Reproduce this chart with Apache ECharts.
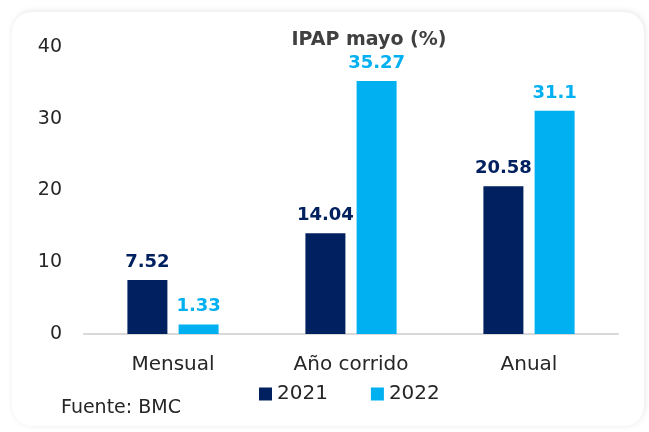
<!DOCTYPE html>
<html lang="es">
<head>
    <meta charset="UTF-8">
    <title>IPAP mayo (%)</title>
    <script src="https://cdn.jsdelivr.net/npm/echarts@6/dist/echarts.min.js"></script>
    <style>
        html, body { margin: 0; padding: 0; background: #fff; }
        #main { width: 649px; height: 432px; }
    </style>
</head>
<body>
<div id="main"></div>
<script>
var categories = ['Mensual', 'Año corrido', 'Anual'];
var serie2021 = [7.52, 14.04, 20.58];
var serie2022 = [1.33, 35.27, 31.1];
var yTicks = [0, 10, 20, 30, 40];

(function() {
    var chart = echarts.init(document.getElementById('main'));
    var font = 'DejaVu Sans';

    var option = {
        backgroundColor: '#fff',
        animation: false,
        textStyle: { fontFamily: font },
        graphic: [{
            type: 'rect',
            shape: { x: 12, y: 12, width: 632, height: 414, r: 20 },
            style: {
                fill: '#fff',
                shadowBlur: 6,
                shadowColor: 'rgba(0,0,0,0.10)',
                shadowOffsetX: 1,
                shadowOffsetY: -1
            },
            z: -10
        }, {
            type: 'text',
            left: 61,
            top: 399,
            style: { text: 'Fuente: BMC', fontSize: 19, fill: '#262626', fontFamily: font }
        }],
        title: {
            text: 'IPAP mayo (%)',
            left: 364,
            top: 26,
            textAlign: 'center',
            textStyle: { fontSize: 19, fontWeight: 'bold', color: '#404040', fontFamily: font }
        },
        legend: {
            data: ['2021', '2022'],
            left: 254,
            top: 379,
            itemWidth: 13,
            itemHeight: 13,
            itemGap: 43,
            icon: 'rect',
            textStyle: { fontSize: 20, color: '#262626', fontFamily: font }
        },
        grid: { left: 84, right: 31, top: 47, bottom: 98 },
        xAxis: {
            type: 'category',
            data: categories,
            axisLine: { lineStyle: { color: '#d9d9d9', width: 2 } },
            axisTick: { show: false },
            axisLabel: { fontSize: 20, color: '#262626', margin: 21, fontFamily: font }
        },
        yAxis: {
            type: 'value',
            min: yTicks[0],
            max: yTicks[yTicks.length - 1],
            interval: 10,
            splitLine: { show: false },
            axisLine: { show: false },
            axisTick: { show: false },
            axisLabel: { fontSize: 19, color: '#262626', margin: 22, fontFamily: font }
        },
        series: [{
            name: '2021',
            type: 'bar',
            data: serie2021,
            barWidth: 40,
            barGap: '28%',
            itemStyle: { color: '#002060' },
            label: {
                show: true,
                position: 'top',
                distance: 9,
                fontSize: 18,
                fontWeight: 'bold',
                color: '#002060',
                fontFamily: font
            }
        }, {
            name: '2022',
            type: 'bar',
            data: serie2022,
            barWidth: 40,
            itemStyle: { color: '#00b0f0' },
            label: {
                show: true,
                position: 'top',
                distance: 9,
                fontSize: 18,
                fontWeight: 'bold',
                color: '#00b0f0',
                fontFamily: font
            }
        }]
    };

    chart.setOption(option);
})();
</script>
</body>
</html>
